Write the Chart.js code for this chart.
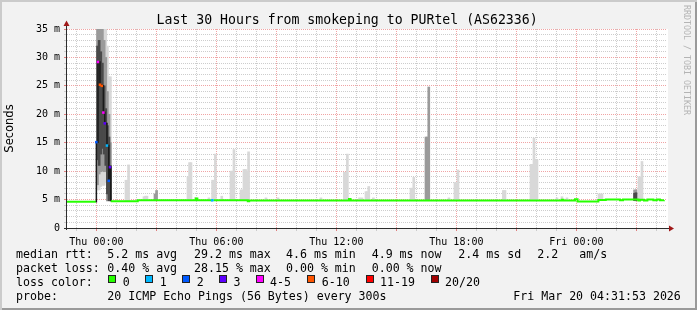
<!DOCTYPE html>
<html>
<head>
<meta charset="utf-8">
<script src="https://cdn.jsdelivr.net/npm/chart.js@4/dist/chart.umd.min.js"></script>
<style>
html,body{margin:0;padding:0;background:#f2f2f2;}
#wrap{position:relative;width:697px;height:310px;background:#f2f2f2;overflow:hidden;}
#wrap:after{content:'';position:absolute;left:0;top:0;right:0;bottom:0;box-shadow:inset 2px 2px 0 #cbcbcb, inset -2px -2px 0 #9a9a9a;pointer-events:none;}
canvas{position:absolute;left:0;top:0;}
.t{position:absolute;font-family:'DejaVu Sans Mono',monospace;white-space:pre;line-height:1;color:#000;font-size:11.6px;}
.title{position:absolute;left:156.5px;top:12.8px;font-family:'DejaVu Sans Mono',monospace;font-size:13.2px;line-height:1;white-space:pre;color:#000;}
.box{position:absolute;top:275px;width:8px;height:8px;box-sizing:border-box;border:1px solid #222;}
.wm{position:absolute;left:683px;top:5px;font-family:'DejaVu Sans Mono',monospace;font-size:8.3px;line-height:1;color:#b4b4b4;writing-mode:vertical-rl;white-space:pre;}
</style>
</head>
<body>
<div id="wrap">
<canvas id="c" width="697" height="310"></canvas>
<div class="title">Last 30 Hours from smokeping to PURtel (AS62336)</div>
<div class="wm">RRDTOOL / TOBI OETIKER</div>
<div id="legend"></div>
</div>
<script>
// ---------- data ----------
const xTickHours  = [0, 6, 12, 18, 24];
const xTickLabels = ['Thu 00:00', 'Thu 06:00', 'Thu 12:00', 'Thu 18:00', 'Fri 00:00'];
const yTickValues = [0, 5, 10, 15, 20, 25, 30, 35];
const yTickLabels = ['0', '5 m', '10 m', '15 m', '20 m', '25 m', '30 m', '35 m'];

const lossClasses = ['0', '1', '2', '3', '4-5', '6-10', '11-19', '20/20'];
const lossColors  = ['#26ff00', '#00b8ff', '#0059ff', '#5e00ff', '#ff00ff', '#ff5500', '#ff0000', '#a00000'];

// hours relative to Thu 00:00; window Wed 22:31:53 .. Fri 04:31:53
const startHour = -1.4686;
const endHour   = 28.5314;

// median rtt (ms) and loss class index
const medianHours = [-1.47, -0.02, 0.00, 0.08, 0.18, 0.27, 0.35, 0.42, 0.53, 0.62, 0.68, 0.72, 2.07, 4.97, 5.05, 5.75, 5.79, 5.87, 7.57, 7.64, 12.63, 12.71, 23.27, 23.35, 23.93, 24.06, 25.10, 25.47, 26.18, 26.33, 27.10, 27.18, 27.38, 27.55, 27.85, 28.02, 28.18, 28.38];
const medianMs    = [4.62, 4.62, 15.1, 29.2, 25.2, 25.0, 20.3, 18.4, 14.5, 8.3, 10.7, 4.72, 4.87, 5.2, 4.87, 4.87, 4.87, 4.87, 4.72, 4.85, 5.1, 4.85, 4.98, 4.85, 5.05, 4.64, 4.93, 5.0, 4.88, 5.0, 4.82, 4.95, 4.82, 5.0, 4.88, 5.0, 4.87, 4.9];
const medianLoss  = [0, 0, 2, 4, 5, 5, 4, 3, 1, 2, 3, 0, 0, 0, 0, 0, 1, 0, 0, 0, 0, 0, 0, 0, 0, 0, 0, 0, 0, 0, 0, 0, 0, 0, 0, 0, 0, 0];

// smoke (ping spread) – light outer band
const smokeLightHours = [0.06, 0.14, 0.22, 0.30, 0.39, 0.47, 0.55, 0.63, 0.70, 1.48, 1.56, 1.61, 2.38, 2.46, 2.53, 4.58, 4.66, 4.73, 4.97, 5.63, 5.81, 5.88, 5.95, 6.27, 6.73, 6.81, 6.88, 7.23, 7.31, 7.38, 7.46, 7.53, 7.61, 8.48, 9.08, 11.23, 12.40, 12.47, 12.55, 13.16, 13.28, 13.48, 13.56, 13.62, 13.85, 15.73, 15.81, 15.87, 17.63, 17.93, 18.01, 18.08, 20.35, 20.43, 21.73, 21.81, 21.88, 21.96, 22.03, 23.03, 23.28, 23.53, 25.13, 25.21, 25.28, 27.13, 27.21, 27.28];
const smokeLightLow   = [6.7, 6.7, 7.3, 7.5, 7.5, 8.0, 4.7, 4.7, 4.7, 4.8, 4.8, 4.8, 4.8, 4.8, 4.8, 4.8, 4.8, 4.8, 4.8, 4.8, 4.8, 4.8, 4.8, 4.8, 4.8, 4.8, 4.8, 4.8, 4.8, 4.8, 4.8, 4.8, 4.8, 4.8, 4.8, 4.8, 4.8, 4.8, 4.8, 4.8, 4.8, 4.8, 4.8, 4.8, 4.8, 4.8, 4.8, 4.8, 4.8, 4.8, 4.8, 4.8, 4.8, 4.8, 4.8, 4.8, 4.8, 4.8, 4.8, 4.8, 4.8, 4.8, 4.8, 4.8, 4.8, 4.8, 4.8, 4.8];
const smokeLightHigh  = [35, 35, 35, 35, 35, 35, 32, 26.6, 26.6, 8.4, 8.4, 11.1, 5.5, 5.6, 5.6, 9.0, 11.5, 11.5, 5.4, 5.3, 8.4, 8.4, 13.0, 5.6, 10, 10, 13.8, 6.7, 6.7, 10.3, 10.3, 10, 13.4, 5.3, 5.3, 5.3, 9.8, 9.8, 13.0, 5.3, 5.3, 6.4, 6.4, 7.3, 5.3, 7.0, 7.0, 8.9, 5.3, 8.0, 8.0, 10.2, 6.6, 6.6, 11.2, 11.2, 15.8, 12, 12, 5.3, 5.5, 5.3, 6.0, 6.0, 6.0, 9.0, 9.0, 11.7];

// smoke – middle band
const smokeMidHours = [0.06, 0.14, 0.22, 0.30, 0.39, 0.47, 0.55, 0.63, 0.70, 2.93, 3.01, 16.48, 16.56, 16.62, 26.91, 26.98];
const smokeMidLow   = [7.6, 9.5, 9.9, 10, 9.9, 9.9, 4.8, 4.8, 4.8, 4.8, 4.8, 4.8, 4.8, 4.8, 4.8, 4.8];
const smokeMidHigh  = [35, 35, 35, 35, 33, 30, 24, 20, 15, 6.0, 6.6, 16, 16, 24.8, 6.7, 6.7];

// smoke – dark core
const smokeDarkHours = [0.06, 0.14, 0.22, 0.30, 0.39, 0.47, 0.55, 0.63, 0.70, 26.91, 26.98];
const smokeDarkLow   = [12, 11, 13, 14, 13, 11, 6, 4.8, 4.8, 4.8, 4.8];
const smokeDarkHigh  = [32, 33, 31, 29, 25, 21, 18, 16, 11, 6.1, 6.2];

// ---------- legend rows (HTML text) ----------
const legend = document.getElementById('legend');
const rows = [
  [[16, 'median rtt:'], [107.3, '5.2 ms avg'], [194, '29.2 ms max'], [286, '4.6 ms min'], [371.7, '4.9 ms now'], [458.3, '2.4 ms sd'], [537.3, '2.2'], [579.3, 'am/s']],
  [[16, 'packet loss:'], [107.3, '0.40 % avg'], [194, '28.15 % max'], [286, '0.00 % min'], [371.7, '0.00 % now']],
  [[16, 'loss color:']],
  [[16, 'probe:'], [107.3, '20 ICMP Echo Pings (56 Bytes) every 300s'], [513.3, 'Fri Mar 20 04:31:53 2026']]
];
const rowTops = [248.9, 262.8, 276.7, 290.6];
rows.forEach((r, ri) => r.forEach(([x, s]) => {
  const d = document.createElement('div');
  d.className = 't'; d.style.left = x + 'px'; d.style.top = rowTops[ri] + 'px'; d.textContent = s;
  legend.appendChild(d);
}));
const boxLefts = [108.3, 145.3, 182.3, 219, 255.7, 307.3, 365.7, 430.7];
lossClasses.forEach((name, i) => {
  const b = document.createElement('div');
  b.className = 'box'; b.style.left = boxLefts[i] + 'px'; b.style.background = lossColors[i];
  legend.appendChild(b);
  const t = document.createElement('div');
  t.className = 't'; t.style.left = (boxLefts[i] + 14.4) + 'px'; t.style.top = rowTops[2] + 'px'; t.textContent = name;
  legend.appendChild(t);
});

// ---------- chart ----------
const MAJOR = '#f0a4a4', MINOR = '#cdcdcd';
const plotDecor = {
  id: 'plotDecor',
  beforeDraw(chart) {
    const {ctx, chartArea: a} = chart;
    ctx.save(); ctx.fillStyle = '#ffffff';
    ctx.fillRect(a.left, a.top, a.right - a.left + 1, a.bottom - a.top);
    ctx.restore();
  },
  afterDatasetsDraw(chart) {
    const {ctx, chartArea: a} = chart;
    ctx.save();
    ctx.strokeStyle = '#2c2c2c'; ctx.lineWidth = 1;
    ctx.beginPath();
    ctx.moveTo(a.left - 0.5, a.bottom + 2); ctx.lineTo(a.left - 0.5, a.top - 5);
    ctx.moveTo(a.left - 3, a.bottom + 0.5); ctx.lineTo(a.right + 3, a.bottom + 0.5);
    ctx.stroke();
    ctx.fillStyle = '#a01818';
    ctx.beginPath();
    ctx.moveTo(a.left - 0.5, a.top - 8.5); ctx.lineTo(a.left - 3.5, a.top - 3); ctx.lineTo(a.left + 2.5, a.top - 3);
    ctx.closePath(); ctx.fill();
    ctx.beginPath();
    ctx.moveTo(a.right + 7, a.bottom + 0.5); ctx.lineTo(a.right + 2, a.bottom - 2.5); ctx.lineTo(a.right + 2, a.bottom + 3.5);
    ctx.closePath(); ctx.fill();
    ctx.restore();
  }
};

function bars(hours, lo, hi) { return hours.map((h, i) => ({x: h, y: [lo[i], hi[i]]})); }

new Chart(document.getElementById('c'), {
  type: 'bar',
  data: {
    datasets: [
      {label: 'smoke light', data: bars(smokeLightHours, smokeLightLow, smokeLightHigh), backgroundColor: '#d8d8d8', barThickness: 2, stack: 'smoke', order: 3, borderWidth: 0},
      {label: 'smoke mid', data: bars(smokeMidHours, smokeMidLow, smokeMidHigh), backgroundColor: '#9a9a9a', barThickness: 2, stack: 'smoke', order: 2, borderWidth: 0},
      {label: 'smoke dark', data: bars(smokeDarkHours, smokeDarkLow, smokeDarkHigh), backgroundColor: '#4a4a4a', barThickness: 2, stack: 'smoke', order: 1, borderWidth: 0},
      {
        type: 'line', label: 'median rtt', order: 0,
        data: medianHours.map((h, i) => ({x: h, y: medianMs[i]})),
        stepped: 'before', fill: false, tension: 0,
        borderColor: lossColors[0], borderWidth: 2,
        pointStyle: 'rect', pointBorderWidth: 0,
        pointRadius: c => medianLoss[c.dataIndex] > 0 ? 1.8 : 0,
        pointBackgroundColor: c => lossColors[medianLoss[c.dataIndex]],
        segment: {
          borderColor: c => {
            const l0 = medianLoss[c.p0DataIndex], l1 = medianLoss[c.p1DataIndex];
            if (l0 === 0 && l1 === 0) return lossColors[0];
            if (medianMs[c.p0DataIndex] === medianMs[c.p1DataIndex]) return lossColors[Math.max(l0, l1)];
            return '#1a1a1a';
          },
          borderWidth: c => (medianLoss[c.p0DataIndex] === 0 && medianLoss[c.p1DataIndex] === 0) ? 2 : 1.5
        }
      }
    ]
  },
  options: {
    responsive: false, animation: false, devicePixelRatio: 1,
    layout: {padding: {left: 0, right: 30, top: 29, bottom: 0}},
    plugins: {legend: {display: false}, tooltip: {enabled: false}, title: {display: false}},
    scales: {
      x: {
        type: 'linear', min: startHour, max: endHour, offset: false,
        afterBuildTicks: s => { const t = []; for (let h = Math.ceil(startHour); h <= Math.floor(endHour); h++) t.push({value: h}); s.ticks = t; },
        afterFit: s => { s.height = 82; },
        grid: {
          offset: false, lineWidth: 1, tickLength: 3,
          color: c => (c.tick && c.tick.value % 3 === 0) ? MAJOR : MINOR,
          tickColor: c => (c.tick && c.tick.value % 3 === 0) ? '#e08080' : '#cccccc'
        },
        border: {display: false, dash: [1, 1]},
        ticks: {
          autoSkip: false, maxRotation: 0, minRotation: 0, padding: 5, color: '#000',
          font: {family: "'DejaVu Sans Mono'", size: 10},
          callback: v => { const i = xTickHours.indexOf(v); return i >= 0 ? xTickLabels[i] : ''; }
        }
      },
      y: {
        type: 'linear', min: 0, max: 35, stacked: false,
        afterBuildTicks: s => { const t = []; for (let v = 0; v <= 35; v++) t.push({value: v}); s.ticks = t; },
        afterFit: s => { s.width = 67; },
        grid: {
          lineWidth: 1, tickLength: 3,
          color: c => (c.tick && c.tick.value % 5 === 0) ? MAJOR : MINOR,
          tickColor: c => (c.tick && c.tick.value % 5 === 0) ? '#e08080' : '#cccccc'
        },
        border: {display: false, dash: [1, 1]},
        ticks: {
          autoSkip: false, padding: 4, color: '#000',
          font: {family: "'DejaVu Sans Mono'", size: 10},
          callback: v => { const i = yTickValues.indexOf(v); return i >= 0 ? yTickLabels[i] : ''; }
        },
        title: {display: true, text: 'Seconds', color: '#000', font: {family: "'DejaVu Sans'", size: 11.5}, padding: {top: 3, bottom: 0}}
      }
    }
  },
  plugins: [plotDecor]
});
</script>
</body>
</html>
